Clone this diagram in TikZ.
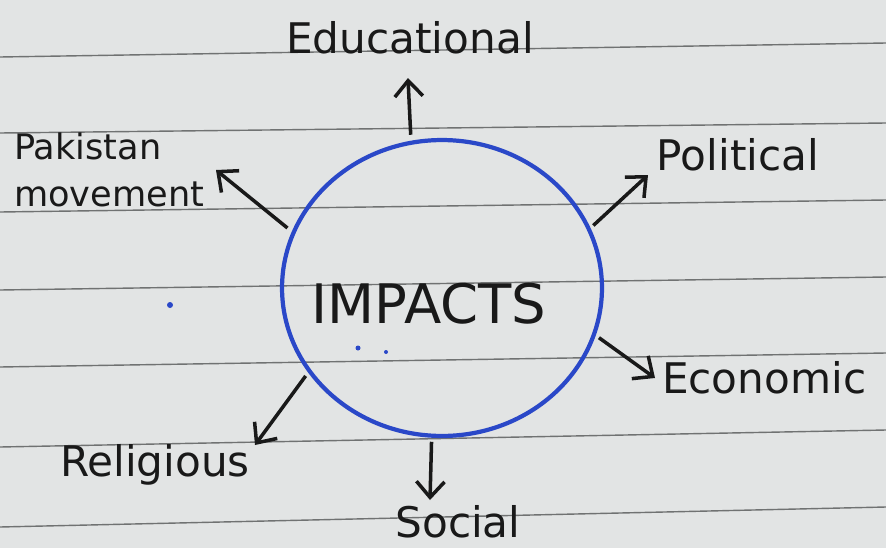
\documentclass[tikz,border=0pt]{standalone}
\usepackage{fontspec}
\setmainfont{DejaVu Sans}
\usetikzlibrary{arrows.meta, shapes.geometric}

\definecolor{paper}{RGB}{226,228,228}
\definecolor{ruling}{RGB}{112,114,114}
\definecolor{ink}{RGB}{25,25,25}
\definecolor{penblue}{RGB}{42,72,200}

\begin{document}
\begin{tikzpicture}[
    x=0.02cm, y=-0.02cm,
    label text/.style={text=ink, font=\fontsize{24}{28}\selectfont, inner sep=1pt},
    every edge/.style={draw=ink, line width=2pt, -{Straight Barb[length=9pt, width=16pt]}}
]

% Paper and its ruled lines
\clip (0,0) rectangle (886,548);
\fill[paper] (0,0) rectangle (886,548);
\foreach \yl/\yr in {57/43, 133/123, 212/200, 290/277, 367/353, 447/430, 527/507}
    \draw[ruling, line width=0.8pt] (0,\yl) -- (886,\yr);

% Central circle
\node[ellipse, draw=penblue, line width=2.4pt, minimum width=6.4cm, minimum height=5.92cm] (hub) at (442,288) {};
\node[text=ink, font=\fontsize{31}{34}\selectfont] (impacts) at (429,304) {IMPACTS};

% Labels
\node[label text] (educational) at (410,38) {Educational};
\node[label text] (political) at (738,155) {Political};
\node[label text, anchor=west] (economic) at (660,378) {Economic};
\node[label text] (social) at (458,522) {Social};
\node[label text] (religious) at (155,465) {Religious};
\node[label text, anchor=west, align=left, font=\fontsize{20}{27}\selectfont] (pakistan) at (12,170) {Pakistan\\movement};

% Arrow tips
\coordinate (eduTip) at (408,78);
\coordinate (polTip) at (648,175);
\coordinate (ecoTip) at (655,378);
\coordinate (socTip) at (430,500);
\coordinate (relTip) at (255,445);
\coordinate (pakTip) at (216,170);

% Arrows out of the circle
\path ([shift={(0,-6)}]hub.102) edge (eduTip);
\path ([shift={(4,0)}]hub.23) edge (polTip);
\path ([shift={(4,0)}]hub.-18) edge (ecoTip);
\path ([shift={(0,4)}]hub.-94) edge (socTip);
\path ([shift={(-2,4)}]hub.212) edge (relTip);
\path ([shift={(-6,0)}]hub.158) edge (pakTip);

% Stray dots
\fill[penblue] (170,305) circle (3);
\fill[penblue] (358,348) circle (2.5);
\fill[penblue] (386,352) circle (2);

\end{tikzpicture}
\end{document}
